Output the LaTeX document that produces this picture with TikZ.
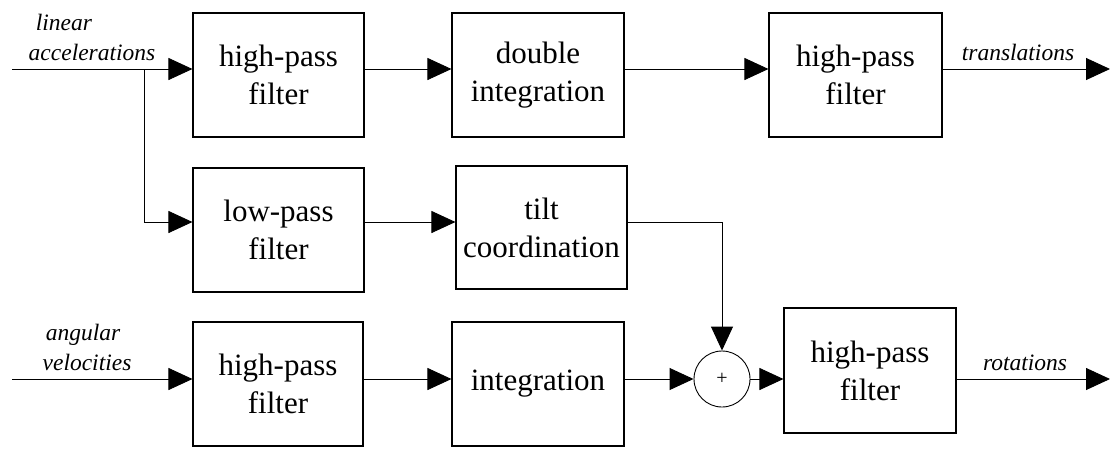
\documentclass[tikz,border=0pt]{standalone}
\usepackage{fontspec}
\setmainfont{Liberation Serif}
\usetikzlibrary{arrows.meta}
\begin{document}
\begin{tikzpicture}[x=1pt,y=-1pt,
  blk/.style={draw, line width=1.1pt, minimum width=171pt, minimum height=124pt,
    align=center, inner sep=0pt, font=\fontsize{31}{38}\selectfont},
  conn/.style={line width=0.9pt, -{Triangle[length=24pt,width=22pt]}},
  plain/.style={line width=0.9pt},
  lbl/.style={font=\itshape\fontsize{23.5}{28}\selectfont, inner sep=0pt, anchor=base},
  sumc/.style={draw, circle, line width=0.9pt, minimum size=56pt, inner sep=0pt,
    font=\fontsize{20}{20}\selectfont}]
\useasboundingbox (0,0) rectangle (1110,448);
% boxes
\node[blk] (b1) at (278.5,75) {high-pass\\filter};
\node[blk, minimum width=172pt] (b2) at (538,75) {double\\integration};
\node[blk, minimum width=173pt] (b3) at (855.5,75) {high-pass\\filter};
\node[blk] (b4) at (278.5,230) {low-pass\\filter};
\node[blk, minimum height=123pt] (b5) at (541.5,227.5) {tilt\\coordination};
\node[blk, minimum width=170pt] (b6) at (278,384) {high-pass\\filter};
\node[blk, minimum width=172pt] (b7) at (538,384) {integration};
\node[blk, minimum width=172pt, minimum height=125pt] (b8) at (870,370.5) {high-pass\\filter};
\node[sumc] (sum) at (722,379) {+};
% row coordinates
\coordinate (in1) at (12,69);
\coordinate (br) at (144,69);
\coordinate (r2) at (0,222);
\coordinate (in3) at (12,379);
\coordinate (out1) at (1110,69);
\coordinate (out3) at (1110,379);
% connectors
\draw[conn] (in1) -- (in1 -| b1.west);
\draw[conn] (in1 -| b1.east) -- (in1 -| b2.west);
\draw[conn] (in1 -| b2.east) -- (in1 -| b3.west);
\draw[conn] (in1 -| b3.east) -- (out1);
\draw[conn] (br) |- (r2 -| b4.west);
\draw[conn] (r2 -| b4.east) -- (r2 -| b5.west);
\draw[conn] (r2 -| b5.east) -| (sum.north);
\draw[conn] (in3) -- (in3 -| b6.west);
\draw[conn] (in3 -| b6.east) -- (in3 -| b7.west);
\draw[conn] (in3 -| b7.east) -- (sum.west);
\draw[conn] (sum.east) -- (sum.east -| b8.west);
\draw[conn] (in3 -| b8.east) -- (out3);
% labels
\node[lbl] (l1) at (64,30) {linear};
\node[lbl] (l2) at (92,60) {accelerations};
\node[lbl] (l3) at (83,340) {angular};
\node[lbl] (l4) at (87,370) {velocities};
\node[lbl] (l5) at (1018,60) {translations};
\node[lbl] (l6) at (1025,370) {rotations};
\end{tikzpicture}
\end{document}
